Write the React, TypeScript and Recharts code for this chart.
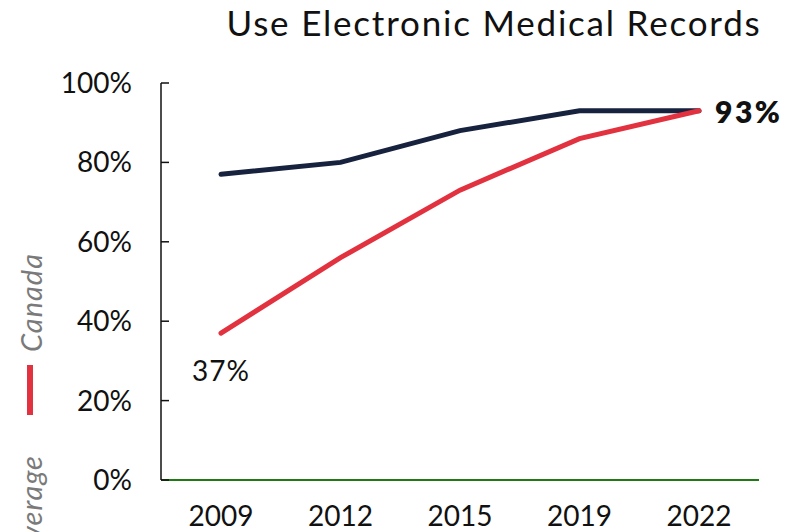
import React from 'react';
import { LineChart, Line, XAxis, YAxis, LabelList } from 'recharts';

const years = ['2009', '2012', '2015', '2019', '2022'];
const canada = [37, 56, 73, 86, 93];
const oecdAverage = [77, 80, 88, 93, 93];
const yTicks = [0, 20, 40, 60, 80, 100];

const NAVY = '#17223f';
const RED = '#e2313f';
const FONT = 'Lato, "Open Sans", sans-serif';

const data = years.map((year, i) => ({ year, canada: canada[i], average: oecdAverage[i] }));

// first red point gets its value under it
const CanadaLabel = (props: any) => {
  const { x, y, value, index } = props;
  if (index !== 0) return null;
  return (
    <text x={x} y={y + 37} textAnchor="middle" dominantBaseline="central" fontSize={28} letterSpacing={1} fontFamily={FONT} fill="#111">
      {`${value}%`}
    </text>
  );
};

// last navy point gets a bold value to its right
const AverageLabel = (props: any) => {
  const { x, y, value, index } = props;
  if (index !== years.length - 1) return null;
  return (
    <text x={x + 16} y={y} textAnchor="start" dominantBaseline="central" fontSize={30} fontWeight={800} letterSpacing={2.5} fontFamily={FONT} fill="#111">
      {`${value}%`}
    </text>
  );
};

export default function App() {
  return (
    <div style={{ position: 'absolute', left: 0, top: 0, width: 785, height: 532, background: '#fff', overflow: 'hidden' }}>
      <LineChart width={785} height={532} data={data} margin={{ top: 83, right: 26, bottom: 0, left: 0 }}>
        <XAxis
          dataKey="year"
          height={52}
          padding={{ left: 60, right: 60 }}
          axisLine={{ stroke: '#1e7a12', strokeWidth: 2 }}
          tickLine={false}
          tickSize={0}
          tickMargin={26}
          tick={{ fill: '#111', fontSize: 28, fontFamily: FONT }}
        />
        <YAxis
          domain={[0, 100]}
          ticks={yTicks}
          width={161}
          tickFormatter={(v: number) => `${v}%`}
          axisLine={{ stroke: '#111', strokeWidth: 1.5 }}
          tickLine={{ stroke: '#111', strokeWidth: 1.5 }}
          tickSize={-8}
          tickMargin={37}
          tick={{ fill: '#111', fontSize: 28, fontFamily: FONT }}
        />
        <Line dataKey="average" stroke={NAVY} strokeWidth={5} strokeLinecap="round" dot={false} isAnimationActive={false}>
          <LabelList dataKey="average" content={AverageLabel} />
        </Line>
        <Line dataKey="canada" stroke={RED} strokeWidth={5} strokeLinecap="round" dot={false} isAnimationActive={false}>
          <LabelList dataKey="canada" content={CanadaLabel} />
        </Line>
      </LineChart>
      <svg width={785} height={532} style={{ position: 'absolute', left: 0, top: 0, pointerEvents: 'none' }}>
        <text x={494} y={22} textAnchor="middle" dominantBaseline="central" fontSize={35} letterSpacing={1.8} fontFamily={FONT} fill="#111">
          Use Electronic Medical Records
        </text>
        <text transform="translate(42,253) rotate(-90)" textAnchor="end" fontSize={29} letterSpacing={1} fontStyle="italic" fontFamily={FONT} fill="#7a7a7a">
          Canada
        </text>
        <rect x={27} y={365} width={6} height={50} fill={RED} />
        <text transform="translate(42,455) rotate(-90)" textAnchor="end" fontSize={29} letterSpacing={1} fontStyle="italic" fontFamily={FONT} fill="#7a7a7a">
          OECD Average
        </text>
      </svg>
    </div>
  );
}
